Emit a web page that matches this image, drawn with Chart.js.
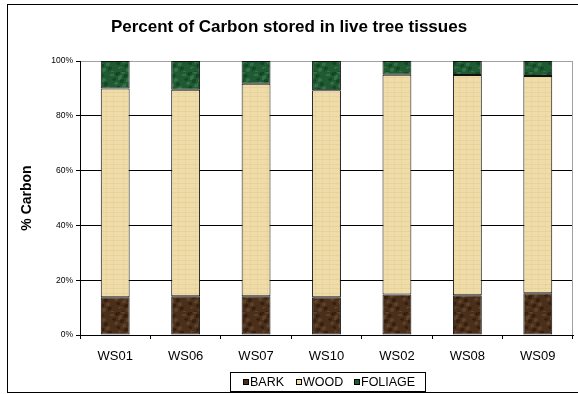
<!DOCTYPE html>
<html>
<head>
<meta charset="utf-8">
<script src="https://cdn.jsdelivr.net/npm/chart.js@4"></script>
<style>
  html, body { margin: 0; padding: 0; background: #fff; }
  canvas { display: block; }
</style>
</head>
<body>
<canvas id="chart" width="578" height="394"></canvas>
<script>
// Percent of Carbon stored in live tree tissues
const categories = ['WS01', 'WS06', 'WS07', 'WS10', 'WS02', 'WS08', 'WS09'];
const bark = [13.8, 14.1, 14.1, 13.8, 14.8, 14.5, 15.2];
const wood = [76.2, 75.4, 77.6, 75.5, 80.2, 80.4, 79.3];
const foliage = [10.0, 10.5, 8.3, 10.7, 5.0, 5.1, 5.5];
const yTicks = [0, 20, 40, 60, 80, 100];

const FONT = "'Liberation Sans', Arial, sans-serif";

// small textured fills, built without randomness
function makeTexture(base, dark, light, kind) {
    const c = document.createElement('canvas');
    c.width = 24; c.height = 24;
    const g = c.getContext('2d');
    g.fillStyle = base;
    g.fillRect(0, 0, 24, 24);
    for (let y = 0; y < 24; y++) {
        for (let x = 0; x < 24; x++) {
            let v;
            if (kind === 'wood') {
                v = (y % 5 === 0 ? 0.5 : 0) + (x % 7 === 3 ? 0.35 : 0);
                if (v > 0) { g.fillStyle = dark; g.globalAlpha = v * 0.35; g.fillRect(x, y, 1, 1); }
            } else {
                v = Math.sin(x * 0.8 + y * 0.35) + Math.sin(x * 0.27 - y * 0.9) + Math.sin((x + y) * 0.5);
                if (v > 1.2) { g.fillStyle = light; g.globalAlpha = 0.55; g.fillRect(x, y, 1, 1); }
                else if (v < -1.2) { g.fillStyle = dark; g.globalAlpha = 0.6; g.fillRect(x, y, 1, 1); }
            }
        }
    }
    g.globalAlpha = 1;
    return g.createPattern(c, 'repeat');
}

const barkFill = makeTexture('#4a2f1b', '#2a180b', '#70502f', 'bark');
const woodFill = makeTexture('#efdca8', '#c9ad6a', '#f7ebc6', 'wood');
const foliageFill = makeTexture('#1f5a33', '#0f3a1d', '#3f8656', 'foliage');

const frameAndTitle = {
    id: 'frameAndTitle',
    beforeDraw(chart) {
        const ctx = chart.ctx;
        ctx.save();
        ctx.strokeStyle = '#000';
        ctx.lineWidth = 1;
        ctx.strokeRect(7.5, 4.5, 600, 388);
        ctx.fillStyle = '#000';
        ctx.font = 'bold 17px ' + FONT;
        ctx.textAlign = 'center';
        ctx.textBaseline = 'middle';
        ctx.fillText('Percent of Carbon stored in live tree tissues', 289, 27);
        ctx.restore();
    },
    afterDatasetsDraw(chart) {
        const ctx = chart.ctx;
        const a = chart.chartArea;
        ctx.save();
        ctx.strokeStyle = '#a0a0a0';
        ctx.lineWidth = 1;
        ctx.beginPath();
        ctx.moveTo(Math.round(a.right) - 0.5, a.top);
        ctx.lineTo(Math.round(a.right) - 0.5, a.bottom);
        ctx.stroke();
        ctx.restore();
    },
    afterDraw(chart) {
        // legend with a box
        const ctx = chart.ctx;
        ctx.save();
        ctx.strokeStyle = '#000';
        ctx.lineWidth = 1;
        ctx.strokeRect(230.5, 372.5, 195, 19);
        ctx.font = '12.5px ' + FONT;
        ctx.textBaseline = 'middle';
        ctx.textAlign = 'left';
        const starts = [243, 296, 354];
        chart.data.datasets.forEach((ds, i) => {
            const x = starts[i];
            ctx.fillStyle = ds.legendColor;
            ctx.fillRect(x, 379, 6, 6);
            ctx.strokeStyle = '#000';
            ctx.strokeRect(x + 0.5, 379.5, 5, 5);
            ctx.fillStyle = '#000';
            ctx.fillText(ds.label, x + 7, 382.5);
        });
        ctx.restore();
    }
};

new Chart(document.getElementById('chart'), {
    type: 'bar',
    data: {
        labels: categories,
        datasets: [
            { label: 'BARK', data: bark, backgroundColor: barkFill, legendColor: '#4a2f1b' },
            { label: 'WOOD', data: wood, backgroundColor: woodFill, legendColor: '#efdca8' },
            { label: 'FOLIAGE', data: foliage, backgroundColor: foliageFill, legendColor: '#1f5a33' }
        ].map(d => Object.assign(d, {
            borderColor: '#111', borderWidth: 1, borderSkipped: false,
            barPercentage: 0.41, categoryPercentage: 1
        }))
    },
    options: {
        responsive: false,
        animation: false,
        devicePixelRatio: 1,
        layout: { padding: { top: 61, right: 5, left: 0, bottom: 29 } },
        plugins: { legend: { display: false }, title: { display: false }, tooltip: { enabled: false } },
        scales: {
            x: {
                stacked: true,
                afterFit: s => { s.height = 30; },
                grid: { offset: true, drawOnChartArea: false, drawTicks: true, tickLength: 4, color: '#000' },
                border: { color: '#000' },
                ticks: { color: '#000', padding: 10, font: { family: FONT, size: 13 } }
            },
            y: {
                stacked: true,
                min: 0, max: 100,
                afterFit: s => { s.width = 80; },
                afterBuildTicks: s => { s.ticks = yTicks.map(v => ({ value: v })); },
                grid: {
                    color: c => c.tick && c.tick.value === 100 ? '#a0a0a0' : '#000',
                    tickColor: '#000', tickLength: 4
                },
                border: { color: '#000' },
                ticks: { color: '#000', padding: 3, callback: v => v + '%', font: { family: FONT, size: 8.5 } },
                title: { display: true, text: '% Carbon', color: '#000', padding: { top: 19, bottom: 0 }, font: { family: FONT, size: 14, weight: 'bold' } }
            }
        }
    },
    plugins: [frameAndTitle]
});
</script>
</body>
</html>
